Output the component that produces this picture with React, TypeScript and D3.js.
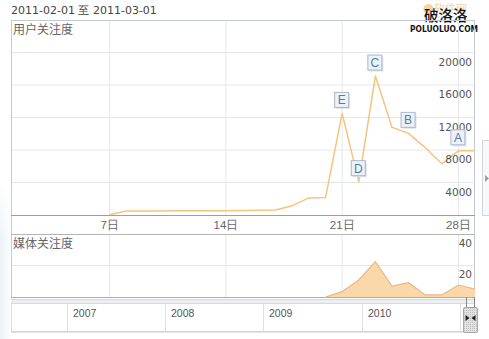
import React from "react";
import * as d3 from "d3";

const headerText = "2011-02-01 至 2011-03-01";
const userTitle = "用户关注度";
const mediaTitle = "媒体关注度";

const userDays = [7, 8, 9, 10, 11, 12, 13, 14, 15, 16, 17, 18, 19, 20, 21, 22, 23, 24, 25, 26, 27, 28, 29];
const userValues = [30, 490, 500, 505, 510, 515, 520, 530, 550, 570, 610, 1150, 2100, 2150, 12500, 4100, 17100, 10800, 10050, 8300, 6300, 7900, 7900];

const mediaDays = [20, 21, 22, 23, 24, 25, 26, 27, 28, 29];
const mediaValues = [0, 3.4, 10.8, 22.4, 7, 9.1, 1.3, 1.3, 7.6, 5.1];

const markerLabels = ["E", "D", "C", "B", "A"];
const markerDays = [21, 22, 23, 25, 28];

const xTickDays = [7, 14, 21, 28];
const xTickLabels = ["7日", "14日", "21日", "28日"];
const userTicks = [4000, 8000, 12000, 16000, 20000];
const mediaTicks = [20, 40];
const years = ["2007", "2008", "2009", "2010"];

export default function App() {
  const W = 489, H = 339;
  const left = 11, right = 475;
  const mainTop = 20, mainBottom = 215, bandBottom = 234, mediaBottom = 297;

  const x = d3.scaleLinear().domain([1, 29]).range([10, 475]);
  const y = d3.scaleLinear().domain([0, 24000]).range([mainBottom, mainTop]);
  const ym = d3.scaleLinear().domain([0, 40]).range([mediaBottom, bandBottom]);

  const userPts = userDays.map((d, i) => [d, userValues[i]] as [number, number]);
  const line = d3.line<[number, number]>().x(d => x(d[0])).y(d => y(d[1]));
  const mediaPts = mediaDays.map((d, i) => [d, mediaValues[i]] as [number, number]);
  const area = d3.area<[number, number]>().x(d => x(d[0])).y0(mediaBottom).y1(d => ym(d[1]));
  const mline = d3.line<[number, number]>().x(d => x(d[0])).y(d => ym(d[1]));

  const numFont = "DejaVu Sans, Verdana, sans-serif";
  const cjkFont = "'Noto Sans CJK SC', sans-serif";
  const gridColor = "#e3e7ec";

  const yearDividers = [67, 165, 263, 362, 460];

  return (
    <svg width={W} height={H} style={{ position: "absolute", left: 0, top: 0, background: "#fff" }}>
      <defs>
        <linearGradient id="lbg" x1="0" x2="1" y1="0" y2="0">
          <stop offset="0" stopColor="#eef2f6" />
          <stop offset="1" stopColor="#fbfcfd" />
        </linearGradient>
        <linearGradient id="lbgv" x1="0" x2="0" y1="0" y2="1">
          <stop offset="0" stopColor="#fff" stopOpacity={1} />
          <stop offset="1" stopColor="#fff" stopOpacity={0} />
        </linearGradient>
        <pattern id="hatch" width="2" height="2" patternUnits="userSpaceOnUse">
          <rect width="2" height="2" fill="#e2e2e2" />
          <rect width="1" height="1" fill="#bdbdbd" />
        </pattern>
      </defs>
      <rect x={0} y={180} width={10} height={159} fill="url(#lbg)" />
      <rect x={0} y={180} width={10} height={60} fill="url(#lbgv)" />

      {/* header */}
      <text x={11} y={14} fontFamily={numFont} fontSize={11} fill="#444">
        {headerText}
      </text>

      {/* watermark */}
      <text x={423} y={13} fontFamily={cjkFont} fontSize={11} fill="#f2c98e" opacity={0.8}>●软件网</text>
      <text x={424} y={21} fontFamily={cjkFont} fontSize={14.5} fontWeight={500} fill="#111">破洛洛</text>
      <text x={410} y={32} fontFamily="DejaVu Sans, sans-serif" fontSize={8.5} fontWeight={700} fill="#111" textLength={68} lengthAdjust="spacingAndGlyphs">POLUOLUO.COM</text>

      {/* main panel grid */}
      {userTicks.map(t => (
        <line key={"hg" + t} x1={left} x2={right} y1={y(t)} y2={y(t)} stroke={gridColor} />
      ))}
      {xTickDays.map(d => (
        <line key={"vg" + d} x1={x(d)} x2={x(d)} y1={mainTop} y2={mainBottom} stroke={gridColor} />
      ))}
      {/* media panel grid */}
      {mediaTicks.filter(t => t < 40).map(t => (
        <line key={"mg" + t} x1={left} x2={right} y1={ym(t)} y2={ym(t)} stroke={gridColor} />
      ))}
      {xTickDays.map(d => (
        <line key={"mvg" + d} x1={x(d)} x2={x(d)} y1={bandBottom} y2={mediaBottom} stroke={gridColor} />
      ))}

      {/* panel borders */}
      <rect x={left + 0.5} y={mainTop + 0.5} width={right - left - 1} height={mediaBottom - mainTop} fill="none" stroke="#c4cad3" />
      <line x1={left} x2={right} y1={mainBottom + 0.5} y2={mainBottom + 0.5} stroke="#9e9e9e" />
      <line x1={left} x2={right} y1={bandBottom + 0.5} y2={bandBottom + 0.5} stroke="#b4b4b4" />
      <line x1={left} x2={right} y1={mediaBottom + 0.5} y2={mediaBottom + 0.5} stroke="#a9aeb6" />

      {/* titles */}
      <text x={13} y={34} fontFamily={cjkFont} fontSize={12} fill="#666">{userTitle}</text>
      <text x={13} y={247.5} fontFamily={cjkFont} fontSize={12} fill="#666">{mediaTitle}</text>

      {/* user line */}
      <path d={line(userPts) || ""} fill="none" stroke="#f5c47e" strokeWidth={1.5} strokeLinejoin="round" />

      {/* y tick labels */}
      {userTicks.map(t => (
        <text key={"yt" + t} x={472} y={y(t) + 13} textAnchor="end" fontFamily={numFont} fontSize={10.5} fill="#555">
          {t}
        </text>
      ))}

      {/* x tick labels */}
      {xTickDays.map((d, i) => (
        <text key={"xt" + d} x={x(d)} y={228.5} textAnchor="middle" fontFamily="'Liberation Sans', Arial, sans-serif" fontSize={11.5} fill="#666">
          {xTickLabels[i]}
        </text>
      ))}

      {/* markers */}
      {markerLabels.map((lab, i) => {
        const d = markerDays[i];
        const v = userValues[userDays.indexOf(d)];
        const cx = x(d), cy = y(v) - 13;
        return (
          <g key={lab}>
            <rect x={cx - 7 + 1} y={cy - 7.5 + 1} width={14} height={15} fill="#dfe4ea" />
            <rect x={cx - 7.5} y={cy - 8} width={14} height={15} fill="#eef2f7" stroke="#a9b7c8" />
            <text x={cx - 0.5} y={cy + 4} textAnchor="middle" fontFamily="'Liberation Sans', Arial, sans-serif" fontSize={12} fill="#4f7db3">
              {lab}
            </text>
          </g>
        );
      })}

      {/* media area */}
      <path d={area(mediaPts) || ""} fill="#fad8aa" />
      <path d={mline(mediaPts) || ""} fill="none" stroke="#eab97c" strokeWidth={1.2} />
      {mediaTicks.map(t => (
        <text key={"mt" + t} x={472} y={ym(t) + 12.5} textAnchor="end" fontFamily={numFont} fontSize={10.5} fill="#555">
          {t}
        </text>
      ))}

      {/* timeline */}
      <rect x={left} y={299} width={right - left} height={4} fill="#eceef1" />
      <line x1={left} x2={right} y1={299.5} y2={299.5} stroke="#d4d8de" />
      <rect x={left + 0.5} y={303.5} width={right - left - 1} height={28} fill="#fff" stroke="#d6d9de" />
      <line x1={left} x2={right} y1={332} y2={332} stroke="#c9ccd1" />
      {yearDividers.map(xx => (
        <line key={"yd" + xx} x1={xx + 0.5} x2={xx + 0.5} y1={304} y2={332} stroke="#dcdfe3" />
      ))}
      {years.map((yr, i) => (
        <text key={yr} x={yearDividers[i] + 6} y={317} fontFamily="'Liberation Sans', Arial, sans-serif" fontSize={10.5} fill="#555">
          {yr}
        </text>
      ))}

      {/* scroll handle */}
      <line x1={466.5} x2={466.5} y1={297} y2={308} stroke="#888" />
      <line x1={474.5} x2={474.5} y1={297} y2={308} stroke="#888" />
      <rect x={463.5} y={307.5} width={14} height={25} fill="url(#hatch)" stroke="#a8a8a8" rx={1.5} />
      <path d="M465.5,315 L469.5,318 L465.5,321 Z" fill="#222" />
      <path d="M475.5,315 L471.5,318 L475.5,321 Z" fill="#222" />

      {/* right tab */}
      <rect x={482.5} y={140.5} width={8} height={75} fill="#f7f8fa" stroke="#d3d6db" />
      <path d="M485,175 L489,178.5 L485,182 Z" fill="#9aa0a8" />
    </svg>
  );
}
